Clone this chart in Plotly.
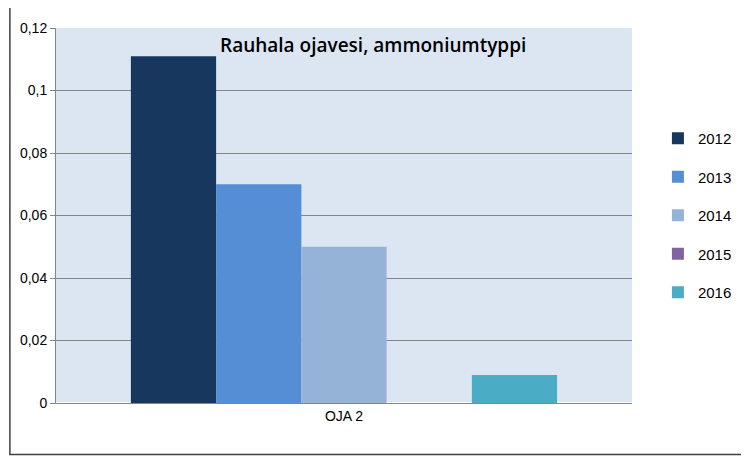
import plotly.graph_objects as go

categories = ["OJA 2"]
years = ["2012", "2013", "2014", "2015", "2016"]
values = [0.111, 0.070, 0.050, 0.0, 0.009]
colors = ["#17375e", "#558ed5", "#95b3d7", "#8064a2", "#4bacc6"]
tick_vals = [0, 0.02, 0.04, 0.06, 0.08, 0.1, 0.12]
tick_text = ["0", "0,02", "0,04", "0,06", "0,08", "0,1", "0,12"]

fig = go.Figure()
for y, v, c in zip(years, values, colors):
    fig.add_trace(go.Bar(x=categories, y=[v], name=y, marker_color=c, marker_line_width=0,
                         legendgroup=y))

# page body has an 8px margin; compensate
W, H, L, R, T, B = 741, 448, 40, 114, 16, 53
pw, ph = W - L - R, H - T - B
fig.update_layout(
    width=W, height=H, margin=dict(l=L, r=R, t=T, b=B),
    barmode="group", bargap=0.26, bargroupgap=0,
    paper_bgcolor="white", plot_bgcolor="#dce6f2",
    font=dict(family="Liberation Sans", size=14, color="black"),
    showlegend=True,
    legend=dict(x=1.045, y=0.5, yanchor="middle", xanchor="left", font=dict(size=15),
                tracegroupgap=16, itemwidth=30),
    xaxis=dict(showline=True, linecolor="#868686", ticks="", tickfont=dict(size=14)),
    yaxis=dict(range=[0, 0.12], tickvals=tick_vals, ticktext=tick_text, showgrid=True,
               gridcolor="#868686", gridwidth=1, showline=True, linecolor="#868686",
               ticks="outside", ticklen=5, tickcolor="#868686", tickfont=dict(size=14)),
    shapes=[dict(type="rect", xref="paper", yref="paper",
                 x0=(-7 - L) / pw + 0.0, x1=(W - 1 - L) / pw,
                 y0=(T + ph - (H - 1)) / ph, y1=(T + ph + 7) / ph,
                 line=dict(color="#404040", width=1.5))],
    annotations=[dict(text="Rauhala ojavesi, ammoniumtyppi", xref="paper", yref="paper",
                      x=0.55, y=0.995, yanchor="top", showarrow=False,
                      font=dict(size=19, family="Open Sans", weight=600))],
)
fig.write_html("out.html")
